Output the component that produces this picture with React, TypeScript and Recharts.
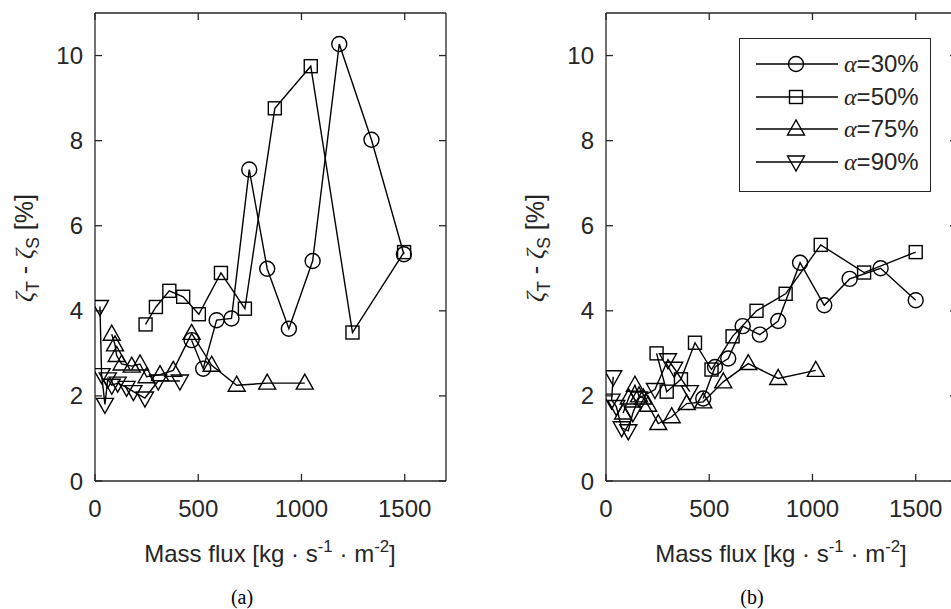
import React from "react";
import { ScatterChart, Scatter, XAxis, YAxis, Legend } from "recharts";

const xTicks = [0, 500, 1000, 1500];
const yTicks = [0, 2, 4, 6, 8, 10];
const xDomain = [0, 1700];
const yDomain = [0, 11];
const seriesNames = ["30%", "50%", "75%", "90%"];
const markers = ["circle", "square", "up", "down"];

// (a) mass flux, zeta_T - zeta_S
const a30 = [[468, 3.31], [524, 2.64], [589, 3.78], [661, 3.82], [747, 7.32], [834, 4.99], [939, 3.58], [1054, 5.17], [1183, 10.27], [1339, 8.02], [1496, 5.33]];
const a50 = [[245, 3.68], [295, 4.09], [360, 4.47], [427, 4.33], [503, 3.92], [610, 4.89], [726, 4.05], [871, 8.76], [1045, 9.75], [1247, 3.49], [1497, 5.38]];
const a75 = [[81, 3.45], [97, 3.2], [105, 2.95], [129, 2.75], [178, 2.7], [218, 2.75], [250, 2.45], [315, 2.5], [379, 2.6], [468, 3.47], [565, 2.72], [686, 2.25], [834, 2.3], [1016, 2.3]];
const a90 = [[24, 4.1], [32, 2.5], [48, 1.8], [62, 2.4], [81, 2.25], [110, 2.3], [153, 2.2], [186, 2.1], [242, 1.95], [306, 2.35], [411, 2.35]];

// (b)
const b30 = [[471, 1.94], [528, 2.68], [592, 2.88], [662, 3.64], [745, 3.44], [834, 3.76], [940, 5.13], [1057, 4.13], [1180, 4.75], [1330, 5.0], [1500, 4.25]];
const b50 = [[245, 3.0], [294, 2.1], [363, 2.39], [431, 3.25], [511, 2.62], [613, 3.4], [729, 4.0], [870, 4.4], [1040, 5.55], [1250, 4.9], [1500, 5.38]];
const b75 = [[83, 1.6], [110, 1.95], [140, 2.25], [160, 2.0], [181, 1.95], [204, 1.78], [253, 1.35], [318, 1.51], [391, 1.82], [471, 1.86], [568, 2.33], [689, 2.76], [834, 2.41], [1016, 2.6]];
const b90 = [[35, 2.45], [27, 1.9], [50, 1.75], [76, 1.25], [108, 1.18], [130, 1.6], [160, 1.95], [237, 2.15], [300, 2.85], [330, 2.65], [406, 2.1]];

const INK = "#262626";
const SANS = "'Liberation Sans', Arial, Helvetica, sans-serif";
const SERIF = "'Liberation Serif', 'Times New Roman', serif";

const toPoints = (arr: number[][]) => arr.map(([x, y]) => ({ x, y }));

function drawMarker(kind: string, cx: number, cy: number) {
  const p = { fill: "none", stroke: "#000", strokeWidth: 1.4 };
  if (kind === "circle") return <circle cx={cx} cy={cy} r={7.5} {...p} />;
  if (kind === "square") return <rect x={cx - 6.5} y={cy - 6.5} width={13} height={13} {...p} />;
  if (kind === "up")
    return <polygon points={`${cx},${cy - 9} ${cx - 8.5},${cy + 6} ${cx + 8.5},${cy + 6}`} {...p} />;
  return <polygon points={`${cx},${cy + 9} ${cx - 8.5},${cy - 6} ${cx + 8.5},${cy - 6}`} {...p} />;
}

const tickStyle = { fill: INK, fontSize: 24, fontFamily: SANS };
const axisLine = { stroke: INK, strokeWidth: 1.3 };

function LegendBox() {
  return (
    <div
      style={{
        width: 190,
        height: 143,
        border: `1.3px solid ${INK}`,
        background: "#fff",
        boxSizing: "content-box",
        paddingTop: 9,
      }}
    >
      {seriesNames.map((n, i) => (
        <div key={n} style={{ display: "flex", alignItems: "center", height: 32.5 }}>
          <svg width={104} height={32} style={{ flex: "none" }}>
            <line x1={16} x2={98} y1={16} y2={16} stroke="#000" strokeWidth={1.4} />
            {drawMarker(markers[i], 56, 16)}
          </svg>
          <span style={{ fontFamily: SANS, fontSize: 24, color: INK, whiteSpace: "nowrap" }}>
            <span style={{ fontFamily: SERIF, fontStyle: "italic" }}>α</span>={n}
          </span>
        </div>
      ))}
    </div>
  );
}

function Panel({ series, showLegend }: { series: number[][][]; showLegend?: boolean }) {
  return (
    <ScatterChart width={500} height={609} margin={{ top: 12, right: 53, bottom: 88, left: 35 }}>
      <XAxis
        dataKey="x"
        type="number"
        domain={xDomain}
        ticks={xTicks}
        allowDataOverflow
        height={40}
        tickSize={-7}
        tickMargin={26}
        tick={tickStyle}
        tickLine={axisLine}
        axisLine={axisLine}
      />
      <XAxis
        xAxisId="t"
        dataKey="x"
        orientation="top"
        type="number"
        domain={xDomain}
        ticks={xTicks}
        allowDataOverflow
        height={1}
        tickSize={-7}
        tickFormatter={() => ""}
        tickLine={axisLine}
        axisLine={axisLine}
      />
      <YAxis
        dataKey="y"
        type="number"
        domain={yDomain}
        ticks={yTicks}
        allowDataOverflow
        width={60}
        tickSize={-7}
        tickMargin={19}
        tick={tickStyle}
        tickLine={axisLine}
        axisLine={axisLine}
      />
      <YAxis
        yAxisId="r"
        dataKey="y"
        orientation="right"
        type="number"
        domain={yDomain}
        ticks={yTicks}
        allowDataOverflow
        width={1}
        tickSize={-7}
        tickFormatter={() => ""}
        tickLine={axisLine}
        axisLine={axisLine}
      />
      {series.map((s, i) => (
        <Scatter
          key={seriesNames[i]}
          name={seriesNames[i]}
          data={toPoints(s)}
          line={{ stroke: "#000", strokeWidth: 1.4 }}
          lineType="joint"
          shape={(props: any) => drawMarker(markers[i], props.cx, props.cy)}
          isAnimationActive={false}
        />
      ))}
      {/* empty series so the mirrored box axes get drawn */}
      <Scatter xAxisId="t" yAxisId="r" data={[]} isAnimationActive={false} legendType="none" />
      {showLegend && (
        <Legend
          layout="horizontal"
          verticalAlign="middle"
          content={() => <LegendBox />}
          wrapperStyle={{ position: "absolute", left: 228, top: 38, width: 192 }}
        />
      )}
    </ScatterChart>
  );
}

const dotStyle = { margin: "0 0.28em" };
const supStyle = { fontSize: "0.7em", position: "relative" as const, top: "-0.6em" };

function XLabel({ left }: { left: number }) {
  return (
    <div
      style={{
        position: "absolute",
        left,
        top: 542,
        transform: "translateX(-50%)",
        fontFamily: SANS,
        fontSize: 24,
        lineHeight: 1,
        color: INK,
        whiteSpace: "nowrap",
      }}
    >
      Mass flux [kg<span style={dotStyle}>·</span>s<span style={supStyle}>-1</span>
      <span style={dotStyle}>·</span>m<span style={supStyle}>-2</span>]
    </div>
  );
}

function YLabel({ left }: { left: number }) {
  const sub = { fontSize: "0.7em", position: "relative" as const, top: "0.35em" };
  const z = { fontFamily: SERIF, fontStyle: "italic" };
  return (
    <div
      style={{
        position: "absolute",
        left,
        top: 248,
        transform: "translate(-50%, -50%) rotate(-90deg)",
        fontFamily: SANS,
        fontSize: 25,
        lineHeight: 1,
        color: INK,
        whiteSpace: "nowrap",
      }}
    >
      <span style={z}>ζ</span>
      <span style={sub}>T</span> - <span style={z}>ζ</span>
      <span style={sub}>S</span> [%]
    </div>
  );
}

function Caption({ left, text }: { left: number; text: string }) {
  return (
    <div
      style={{
        position: "absolute",
        left,
        top: 587,
        transform: "translateX(-50%)",
        fontFamily: SERIF,
        fontSize: 20,
        lineHeight: 1,
        color: "#000",
      }}
    >
      {text}
    </div>
  );
}

export default function App() {
  return (
    <div
      style={{
        position: "absolute",
        left: 0,
        top: 0,
        width: 951,
        height: 609,
        overflow: "hidden",
        background: "#fff",
      }}
    >
      <div style={{ position: "absolute", left: 0, top: 0 }}>
        <Panel series={[a30, a50, a75, a90]} />
      </div>
      <div style={{ position: "absolute", left: 511, top: 0 }}>
        <Panel series={[b30, b50, b75, b90]} showLegend />
      </div>
      <YLabel left={24} />
      <YLabel left={535} />
      <XLabel left={270} />
      <XLabel left={781} />
      <Caption left={242} text="(a)" />
      <Caption left={752} text="(b)" />
    </div>
  );
}
